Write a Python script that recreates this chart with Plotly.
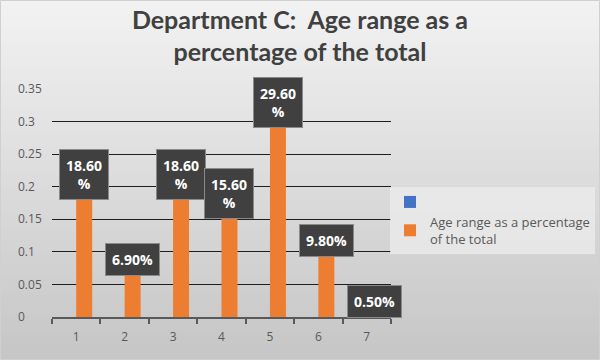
import plotly.graph_objects as go

# ---- data ----
categories = ["1", "2", "3", "4", "5", "6", "7"]
values = [0.186, 0.069, 0.186, 0.156, 0.296, 0.098, 0.005]
label_texts = ["18.60<br>%", "6.90%", "18.60<br>%", "15.60<br>%", "29.60<br>%", "9.80%", "0.50%"]
empty_values = [0, 0, 0, 0, 0, 0, 0]
ytick_vals = [0, 0.05, 0.1, 0.15, 0.2, 0.25, 0.3, 0.35]
ytick_text = ["0", "0.05", "0.1", "0.15", "0.2", "0.25", "0.3", "0.35"]
series_name = "Age range as a percentage<br>of the total"
title_text = "Department C:  Age range as a<br>percentage of the total"

W, H = 600, 360
ML, MR, MT, MB = 14, 0, 89, 43
PW = W - ML - MR
PH = H - MT - MB
X_DOMAIN = [(52 - ML) / PW, (391 - ML) / PW]

fig = go.Figure()
fig.add_trace(go.Bar(x=categories, y=empty_values, name=" ",
                     marker=dict(color="#4472C4", line=dict(width=0))))
fig.add_trace(go.Bar(x=categories, y=values, name=series_name,
                     marker=dict(color="#ED7D31", line=dict(width=0))))

cat_px = (X_DOMAIN[1] - X_DOMAIN[0]) * PW / len(categories)
bargap = 0.34
bar_px = cat_px * (1 - bargap) / 2

annotations = []
for i, (v, t) in enumerate(zip(values, label_texts)):
    annotations.append(dict(
        x=i, y=v, xref="x", yref="y", text="<b>" + t + "</b>", showarrow=False,
        xanchor="center", yanchor="bottom", xshift=bar_px / 2, yshift=-4,
        font=dict(family="Open Sans", size=14, color="white"),
        bgcolor="#404040", bordercolor="#8a8a8a", borderwidth=1, borderpad=6,
    ))

shapes = []
n = 72
x0 = -ML / PW
x1 = (W - ML) / PW
top_c = (242, 242, 242)
bot_c = (198, 198, 198)
for k_ in range(n):
    f = k_ / (n - 1)
    col = tuple(round(top_c[k] + (bot_c[k] - top_c[k]) * f) for k in range(3))
    ya = (H - MB - k_ * H / n) / PH
    yb = (H - MB - (k_ + 1) * H / n) / PH
    shapes.append(dict(type="rect", xref="paper", yref="paper", x0=x0, x1=x1,
                       y0=yb - 0.002, y1=ya, layer="below", line=dict(width=0),
                       fillcolor="rgb(%d,%d,%d)" % col))
shapes.append(dict(type="rect", xref="paper", yref="paper", x0=x0 + 0.5 / PW, x1=x1 - 0.5 / PW,
                   y0=-(MB - 0.5) / PH, y1=(H - MB - 0.5) / PH, layer="above",
                   line=dict(width=1, color="#d0d0d0"), fillcolor="rgba(0,0,0,0)"))

fig.update_layout(
    width=W, height=H,
    margin=dict(l=ML, r=MR, t=MT, b=MB, autoexpand=False),
    paper_bgcolor="#d8d8d8",
    plot_bgcolor="rgba(0,0,0,0)",
    barmode="group", bargap=bargap, bargroupgap=0,
    title=dict(text="<b>" + title_text + "</b>", x=0.5, xref="container",
               xanchor="center", y=0.92, yanchor="top",
               font=dict(family="Lato", size=25, color="#404040")),
    xaxis=dict(domain=X_DOMAIN, type="category", range=[-0.5, len(categories) - 0.5],
               tickson="boundaries", ticks="outside",
               ticklen=5, tickwidth=1.5, tickcolor="#595959", showline=True,
               linecolor="#595959", linewidth=1.5, showgrid=False, ticklabelstandoff=8,
               tickfont=dict(family="Open Sans", size=12, color="#595959")),
    yaxis=dict(anchor="free", position=0, range=[0, 0.35], tickvals=ytick_vals,
               ticktext=ytick_text, ticklabelposition="inside", ticklabeloverflow="allow",
               showgrid=True, gridcolor="#1e1e1e", gridwidth=1, zeroline=False,
               showline=False, ticks="",
               tickfont=dict(family="Open Sans", size=12, color="#595959")),
    legend=dict(x=(390 - ML) / PW, xanchor="left", y=(H - MB - 187) / PH, yanchor="top",
                bgcolor="rgba(238,238,238,0.7)", traceorder="normal", tracegroupgap=0,
                font=dict(family="Open Sans", size=13, color="#595959")),
    annotations=annotations,
    shapes=shapes,
    showlegend=True,
)

fig.write_html("out.html", config={"displayModeBar": False},
               post_script="document.body.style.margin='0';")
